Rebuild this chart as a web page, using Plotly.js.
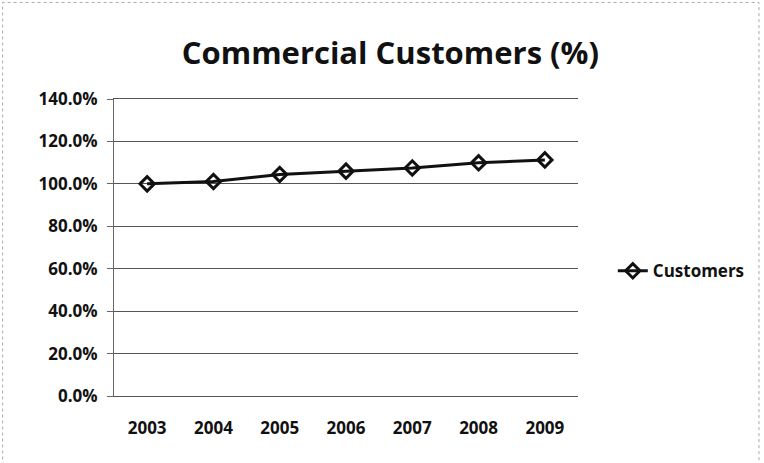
<!DOCTYPE html>
<html>
<head>
<meta charset="utf-8">
<script src="https://cdn.plot.ly/plotly-3.0.1.min.js"></script>
<style>html,body{margin:0;padding:0;background:#fff;}#chart{width:764px;height:463px;}</style>
</head>
<body>
<div id="chart"></div>
<script>
const years = ["2003", "2004", "2005", "2006", "2007", "2008", "2009"];
const customers = [1.000, 1.011, 1.044, 1.060, 1.075, 1.099, 1.113];
const yTicks = [0, 0.2, 0.4, 0.6, 0.8, 1.0, 1.2, 1.4];

const font = "'Open Sans', Lato, sans-serif";

const trace = {
  x: years,
  y: customers,
  type: "scatter",
  mode: "lines+markers",
  name: "Customers",
  line: {color: "#111", width: 3},
  marker: {symbol: "diamond-open", size: 11, color: "#111", line: {color: "#111", width: 3}}
};

const layout = {
  width: 764,
  height: 463,
  margin: {l: 114, r: 186, t: 99, b: 67},
  paper_bgcolor: "#fff",
  plot_bgcolor: "#fff",
  title: {
    text: "<b>Commercial Customers (%)</b>",
    font: {family: font, size: 31, color: "#111"},
    x: 0.511, xanchor: "center", y: 0.885, yanchor: "middle"
  },
  showlegend: true,
  legend: {
    x: 1.075, xanchor: "left", y: 0.42, yanchor: "middle",
    font: {family: font, size: 17, color: "#111", weight: "bold"},
    bgcolor: "rgba(0,0,0,0)"
  },
  xaxis: {
    type: "category",
    range: [-0.5, 6.5],
    showgrid: false,
    showline: true, mirror: true, linecolor: "#555", linewidth: 1,
    ticks: "",
    tickfont: {family: font, size: 17, color: "#111", weight: "bold"},
    ticklabelstandoff: 17,
    zeroline: false
  },
  yaxis: {
    range: [0, 1.4],
    tickvals: yTicks,
    tickformat: ".1%",
    showgrid: true, gridcolor: "#555", gridwidth: 1,
    showline: true, linecolor: "#666", linewidth: 1,
    ticks: "outside", ticklen: 6, tickcolor: "#666",
    tickfont: {family: font, size: 17, color: "#111", weight: "bold"},
    ticklabelstandoff: 6,
    zeroline: false
  },
  shapes: [{
    type: "rect", xref: "paper", yref: "paper",
    x0: -0.24, x1: 1.39, y0: -0.235, y1: 1.325,
    line: {color: "#aaa", width: 1, dash: "dot"}
  }]
};

Plotly.newPlot("chart", [trace], layout, {displayModeBar: false, staticPlot: true});
</script>
</body>
</html>
